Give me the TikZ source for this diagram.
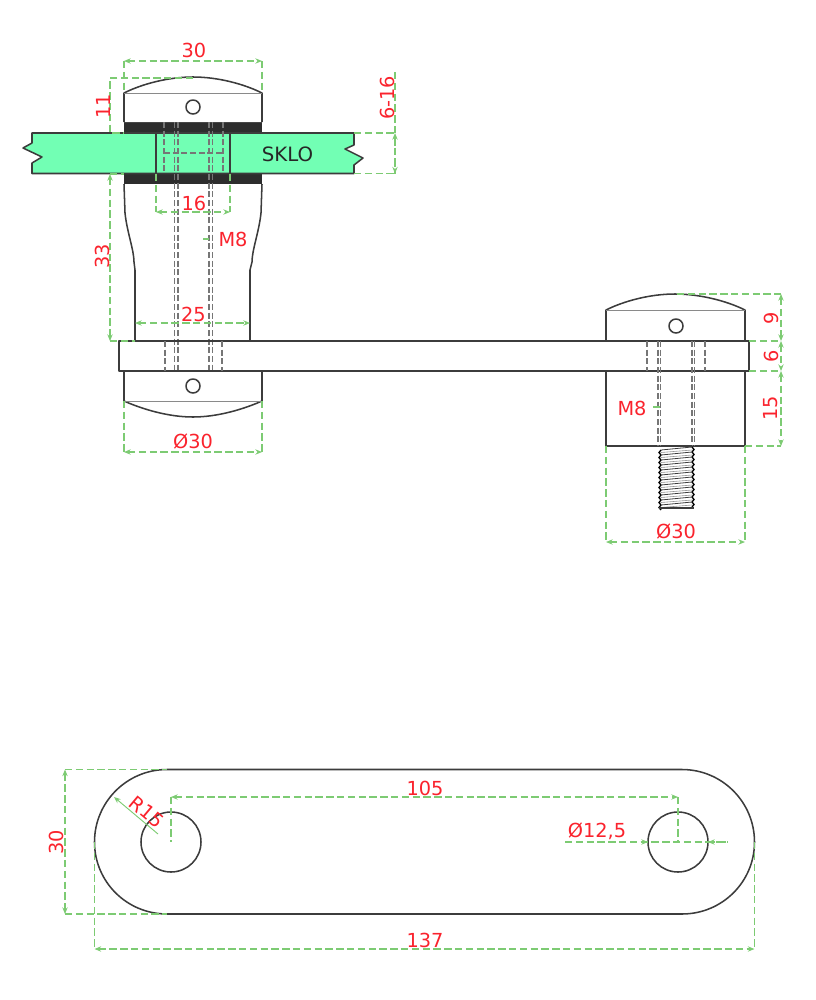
\documentclass[tikz,border=0pt]{standalone}
\usepackage{fontspec}
\setmainfont{DejaVu Sans}
\usetikzlibrary{arrows.meta}
\definecolor{dimgreen}{RGB}{125,203,115}
\definecolor{dimred}{RGB}{250,35,45}
\definecolor{glass}{RGB}{114,255,180}
\definecolor{part}{RGB}{60,60,60}
\definecolor{band}{RGB}{45,45,45}
\tikzset{
  outline/.style={draw=part,line width=1.15pt,line join=round},
  thinline/.style={draw=part!60,line width=0.6pt},
  hidden/.style={draw=part!70,line width=0.85pt,dash pattern=on 4.5pt off 2pt},
  dimline/.style={draw=dimgreen,line width=0.8pt,dash pattern=on 5.5pt off 2.6pt},
  dimarrow/.style={dimline,{Stealth[length=5pt,width=4pt]}-{Stealth[length=5pt,width=4pt]}},
  oneend/.style={dimline,-{Stealth[length=5pt,width=4pt]}},
  lab/.style={text=dimred,font=\fontsize{14.5}{16}\selectfont,inner sep=0pt},
}
\begin{document}
\begin{tikzpicture}[x=0.75pt,y=-0.75pt]
\useasboundingbox (0,0) rectangle (815,1000);
% ---------- upper-left fixture ----------
\fill[band] (124,122) rectangle (262,184);
\draw[outline,fill=white] (124,122) -- (124,93) .. controls (142,84) and (168,77) .. (193,77) .. controls (218,77) and (244,84) .. (262,93) -- (262,122);
\draw[thinline] (124,93) -- (262,93);
\draw[outline] (193,107) circle (7);
\draw[outline,fill=glass] (32,133) -- (354,133) -- (354,145) -- (345,149) -- (363,158) -- (354,165) -- (354,173.5) -- (32,173.5) -- (32,163) -- (42,157) -- (23,148) -- (32,143) -- cycle;
\node[font=\fontsize{14.8}{16}\selectfont,text=black!85,inner sep=0pt] (sklo) at (287.5,154.5) {SKLO};
\draw[outline] (156,133) -- (156,174) (230,133) -- (230,174);
\draw[outline] (124,184) -- (125,213) .. controls (127,232) and (134,250) .. (134,262) -- (135,270) -- (135,341);
\draw[outline] (262,184) -- (261,213) .. controls (259,232) and (252,250) .. (252,262) -- (250,270) -- (250,341);
% hidden lines
\draw[hidden] (164,122) -- (164,174) (223,122) -- (223,174) (164,153) -- (223,153);
\foreach \x in {174.5,178,209,212.5}{\draw[hidden] (\x,122) -- (\x,371);}
% ---------- lower-left cap ----------
\draw[outline,fill=white] (124,371) -- (124,401) .. controls (142,409) and (168,417) .. (193,417) .. controls (218,417) and (244,409) .. (262,401) -- (262,371);
\draw[thinline] (124,401) -- (262,401);
\draw[outline] (193,386) circle (7);
% ---------- right fixture ----------
\draw[outline] (606,341) -- (606,310) .. controls (624,301) and (650,294) .. (675,294) .. controls (700,294) and (727,301) .. (745,310) -- (745,341);
\draw[thinline] (606,310) -- (745,310);
\draw[outline] (676,326) circle (7);
\draw[outline] (606,371) rectangle (745,446);
% plate
\draw[outline] (119,341) rectangle (749,371);
% hidden lines in plate
\foreach \x in {165,222,647,705}{\draw[hidden] (\x,341) -- (\x,371);}
\foreach \x in {658,660.5,692,694.5}{\draw[hidden] (\x,341) -- (\x,446);}
% thread
\foreach \i in {0,...,11}{
  \pgfmathsetmacro{\ya}{450+\i*5}
  \pgfmathsetmacro{\yb}{\ya-3}
  \pgfmathsetmacro{\yc}{\ya+2.5}
  \pgfmathsetmacro{\yd}{\ya+5}
  \draw[draw=part,line width=0.6pt] (661,\ya) -- (692,\yb);
  \draw[draw=part!55,line width=0.45pt] (661,\yc) -- (692,\ya);
  \draw[draw=black,line width=1pt] (661,\ya) -- (659,\yc) -- (661,\yd);
  \draw[draw=black,line width=1pt] (692,\yb) -- (694,\ya-0.5) -- (692,\ya+2);
}
\draw[draw=part,line width=1pt] (659,508) -- (694,508);
\draw[draw=part,line width=0.9pt] (661,446) -- (692,446);
% ---------- bottom plate ----------
\draw[outline] (167,769.5) -- (682,769.5) .. controls (722,769.5) and (754.5,802) .. (754.5,842) .. controls (754.5,882) and (722,914) .. (682,914) -- (167,914) .. controls (127,914) and (94.5,882) .. (94.5,842) .. controls (94.5,802) and (127,769.5) .. (167,769.5) -- cycle;
\draw[outline] (171,842) circle (30);
\draw[outline] (678,842) circle (30);
% ---------- dimensions, top view ----------
\draw[dimarrow] (124,61) -- (262,61);
\draw[dimline] (124,61) -- (124,93) (262,61) -- (262,93);
\node[lab] (d30a) at (194,50.5) {30};
\draw[dimline] (193,78) -- (110,78) -- (110,133) -- (124,133);
\node[lab,rotate=90] (d11) at (103,106) {11};
\draw[dimline] (395,72) -- (395,173.5) (354,133) -- (395,133) (354,173.5) -- (395,173.5);
\draw[oneend] (395,146) -- (395,133);
\draw[oneend] (395,160) -- (395,173.5);
\node[lab,rotate=90] (d616) at (387.5,98) {6-16};
\draw[dimarrow] (156,212) -- (230,212);
\draw[dimline] (156,174) -- (156,212) (230,174) -- (230,212);
\node[lab] (d16) at (194,203) {16};
\draw[dimline] (203,239) -- (209,239);
\node[lab] (m8a) at (233,239.5) {M8};
\draw[dimarrow] (110,174) -- (110,341);
\draw[dimline] (110,174) -- (124,174) (110,341) -- (135,341);
\node[lab,rotate=90] (d33) at (102,256.5) {33};
\draw[dimarrow] (135,323) -- (250,323);
\node[lab] (d25) at (193.5,314) {25};
\draw[dimarrow] (124,452) -- (262,452);
\draw[dimline] (124,401) -- (124,452) (262,401) -- (262,452);
\node[lab] (o30a) at (193,441) {Ø30};
% right fixture dimensions
\draw[dimarrow] (781,294) -- (781,341);
\draw[dimarrow] (781,341) -- (781,371);
\draw[dimarrow] (781,371) -- (781,446);
\draw[dimline] (677,294) -- (781,294) (749,341) -- (781,341) (749,371) -- (781,371) (745,446) -- (781,446);
\node[lab,rotate=90] (d9) at (771,318) {9};
\node[lab,rotate=90] (d6) at (771,356) {6};
\node[lab,rotate=90] (d15) at (771,408.5) {15};
\draw[dimline] (653,407) -- (663,407);
\node[lab] (m8b) at (632,408) {M8};
\draw[dimarrow] (606,542) -- (745,542);
\draw[dimline] (606,446) -- (606,542) (745,446) -- (745,542);
\node[lab] (o30b) at (676,531) {Ø30};
% bottom view dimensions
\draw[dimarrow] (65,769.5) -- (65,914);
\draw[dimline] (65,769.5) -- (167,769.5) (65,914) -- (167,914);
\node[lab,rotate=90] (d30c) at (56,842) {30};
\draw[dimarrow] (94.5,949) -- (754.5,949);
\draw[dimline] (94.5,842) -- (94.5,949) (754.5,842) -- (754.5,949);
\node[lab] (d137) at (425,940) {137};
\draw[dimarrow] (171,797) -- (678,797);
\draw[dimline] (171,797) -- (171,842) (678,797) -- (678,842);
\node[lab] (d105) at (425,788) {105};
\draw[draw=dimgreen,line width=0.7pt,{Stealth[length=5pt,width=4pt]}-] (114,797) -- (158,834);
\node[lab,rotate=-40] (r15) at (147,812) {R15};
\draw[dimline] (565,842) -- (728,842);
\draw[oneend] (630,842) -- (648,842);
\draw[oneend] (726,842) -- (708,842);
\node[lab] (o125) at (597,831) {Ø12,5};
\end{tikzpicture}
\end{document}
